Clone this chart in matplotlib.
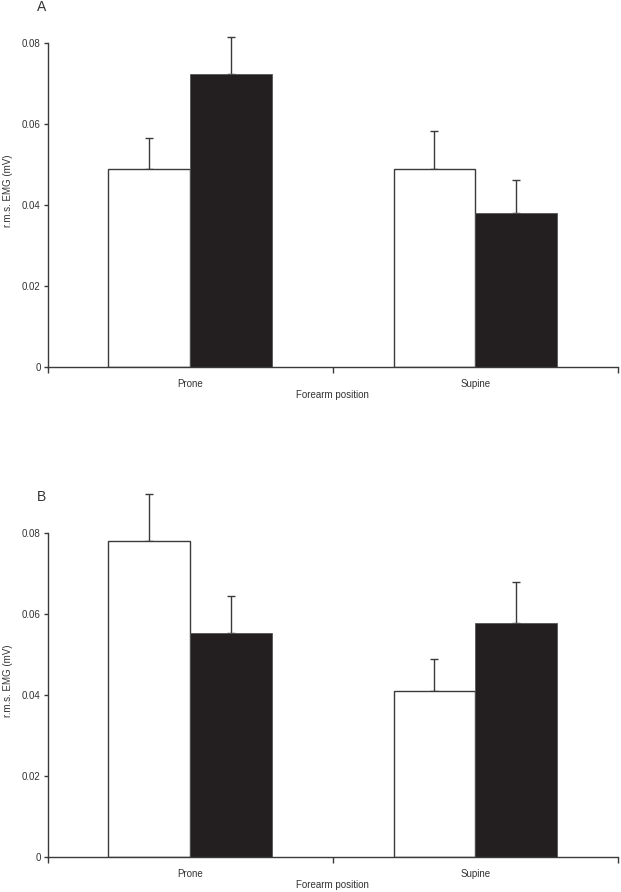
import matplotlib
matplotlib.use("Agg")
import matplotlib.pyplot as plt
import numpy as np

plt.rcParams['font.family'] = ['Liberation Sans', 'DejaVu Sans']

positions = ['Prone', 'Supine']
# panel A
a_white = [0.0490, 0.0490]
a_white_err = [0.0075, 0.0092]
a_black = [0.0725, 0.0380]
a_black_err = [0.0090, 0.0083]
# panel B
b_white = [0.0780, 0.0410]
b_white_err = [0.0116, 0.0078]
b_black = [0.0553, 0.0577]
b_black_err = [0.0091, 0.0101]

panels = [('A', a_white, a_white_err, a_black, a_black_err),
          ('B', b_white, b_white_err, b_black, b_black_err)]

fig = plt.figure(figsize=(6.21, 8.92), dpi=100)
W, H = 621, 892
# axes boxes in pixels: left, zero line y, top y
boxes = [(47.5, 366.7, 43.3), (47.5, 856.7, 533.0)]
right = 618.0
edge = '#3a3a3a'
bw = 0.287
x = np.arange(len(positions))

for (letter, wv, we, bv, be), (l, y0, y1) in zip(panels, boxes):
    ax = fig.add_axes([l / W, 1 - y0 / H, (right - l) / W, (y0 - y1) / H])
    ax.bar(x - bw / 2, wv, bw, color='white', edgecolor=edge, linewidth=1.0, zorder=2)
    ax.bar(x + bw / 2, bv, bw, color='#231f20', edgecolor='#555555', linewidth=0.6, zorder=2)
    for xs, vals, errs in [(x - bw / 2, wv, we), (x + bw / 2, bv, be)]:
        eb = ax.errorbar(xs, vals, yerr=[np.zeros(2), errs], fmt='none', ecolor=edge,
                         elinewidth=1.0, capsize=3, capthick=1.0, zorder=1)
        for art in eb.lines[1] + eb.lines[2]:
            art.set_clip_on(False)
    ax.set_xlim(-0.5, 1.5)
    ax.set_ylim(0, 0.08)
    ax.set_yticks([0, 0.02, 0.04, 0.06, 0.08])
    ax.set_yticklabels(['0', '0.02', '0.04', '0.06', '0.08'])
    ax.set_xticks(x)
    ax.set_xticklabels(positions)
    ax.set_xticks([-0.5, 0.5, 1.5], minor=True)
    ax.tick_params(axis='x', which='major', length=0, pad=9, labelsize=7, colors='#333333')
    ax.tick_params(axis='x', which='minor', length=4, width=1, color=edge)
    ax.tick_params(axis='y', length=3, width=1, color=edge, labelsize=7, pad=2, labelcolor='#333333')
    for s in ['top', 'right']:
        ax.spines[s].set_visible(False)
    for s in ['left', 'bottom']:
        ax.spines[s].set_color(edge)
        ax.spines[s].set_linewidth(1.0)
    ax.set_ylabel('r.m.s. EMG (mV)', fontsize=7, color='#333333')
    ax.yaxis.set_label_coords(-0.061, 0.545)
    ax.set_xlabel('Forearm position', fontsize=7, color='#333333')
    ax.xaxis.set_label_coords(0.5, -28 / (y0 - y1), transform=ax.transAxes)
    ax.xaxis.label.set_verticalalignment('center')
    ax.text(42 / W, 1 - (y1 - 36) / H, letter, transform=fig.transFigure,
            fontsize=10, ha='center', va='center', color='#333333')

fig.savefig('out.png', dpi=100)
